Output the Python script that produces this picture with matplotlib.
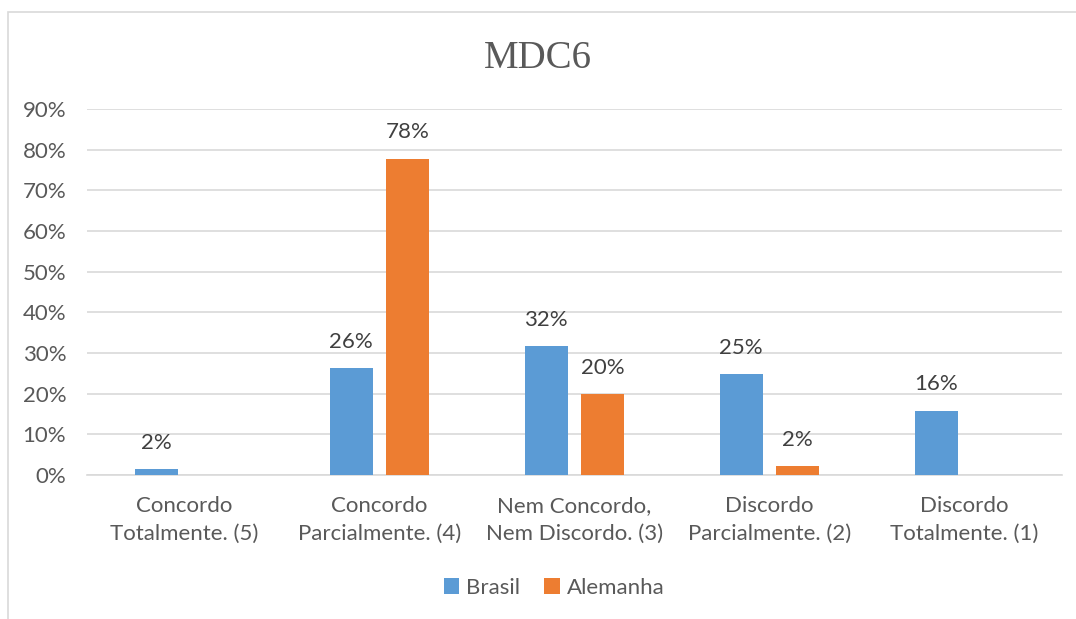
import numpy as np
import matplotlib
matplotlib.use('Agg')
import matplotlib.pyplot as plt
from matplotlib.patches import Rectangle
from matplotlib.ticker import PercentFormatter

# data (percentages)
categories = ['Concordo\nTotalmente. (5)', 'Concordo\nParcialmente. (4)',
              'Nem Concordo,\nNem Discordo. (3)', 'Discordo\nParcialmente. (2)',
              'Discordo\nTotalmente. (1)']
brasil = [1.5, 26.3, 31.6, 24.8, 15.8]
alemanha = [0.0, 77.8, 19.9, 2.2, 0.0]
series_names = ['Brasil', 'Alemanha']
yticks = [0, 10, 20, 30, 40, 50, 60, 70, 80, 90]

plt.rcParams['font.family'] = ['Lato', 'DejaVu Sans']

fig = plt.figure(figsize=(10.76, 6.19), dpi=100)
ax = fig.add_axes([87/1076, 1-475/619, (1062-87)/1076, (475-109)/619])

# chart border (only top and left visible in the crop)
fig.patches.append(Rectangle((8/1076, -0.1), 1.2, 1-12/619+0.1, transform=fig.transFigure,
                             fill=False, edgecolor='#D9D9D9', linewidth=1.2))

x = np.arange(len(categories))
w = 0.22
off = 0.145
b1 = ax.bar(x - off, brasil, w, color='#5B9BD5', label=series_names[0], zorder=3)
b2 = ax.bar(x + off, alemanha, w, color='#ED7D31', label=series_names[1], zorder=3)

#value labels, zeros are not labelled
for bars, vals in [(b1, brasil), (b2, alemanha)]:
    for r, v in zip(bars, vals):
        if v == 0:
            continue
        ax.annotate('%d%%' % round(v), (r.get_x() + r.get_width()/2, v),
                    xytext=(0, 19), textcoords='offset points', ha='center', va='center',
                    fontsize=16, color='#404040')

ax.set_xlim(-0.5, 4.5)
ax.set_ylim(0, 90)
ax.set_yticks(yticks)
ax.yaxis.set_major_formatter(PercentFormatter(decimals=0))
ax.set_xticks(x)
ax.set_xticklabels(categories, linespacing=1.5)
ax.tick_params(axis='both', length=0, labelsize=16, labelcolor='#595959')
ax.tick_params(axis='x', pad=15)
ax.tick_params(axis='y', pad=15)
ax.grid(axis='y', color='#D9D9D9', linewidth=1.2, zorder=0)
for s in ['top', 'right', 'left']:
    ax.spines[s].set_visible(False)
ax.spines['bottom'].set_color('#D9D9D9')
ax.spines['bottom'].set_linewidth(1.2)

fig.text(0.5, 1-58/619, 'MDC6', ha='center', va='center', fontsize=28,
         family='Liberation Serif', color='#595959')

fig.legend(loc='center', bbox_to_anchor=(554/1076, 1-588/619), ncol=2, frameon=False,
           fontsize=16, labelcolor='#595959', handlelength=0.7, handleheight=0.7,
           handletextpad=0.3, columnspacing=1.1)

fig.savefig('out.png', dpi=100)
